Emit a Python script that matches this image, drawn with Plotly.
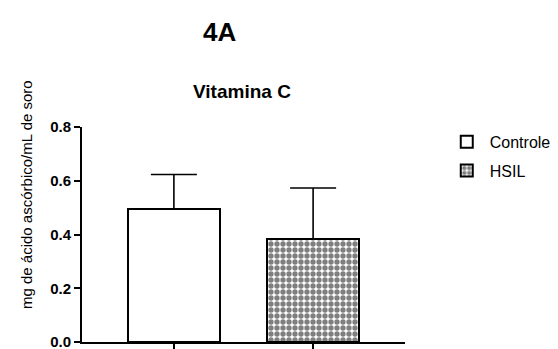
import plotly.graph_objects as go

groups = ["Controle", "HSIL"]
means = [0.495, 0.383]
sds = [0.128, 0.19]
y_ticks = [0.0, 0.2, 0.4, 0.6, 0.8]
y_tick_labels = ["0.0", "0.2", "0.4", "0.6", "0.8"]

FONT = "Liberation Sans, Arial, Helvetica, sans-serif"

fig = go.Figure()
fig.add_trace(go.Bar(
    x=[groups[0]], y=[means[0]], name=groups[0], width=0.66,
    marker=dict(color="white", line=dict(color="black", width=2)),
    error_y=dict(type="data", symmetric=False, array=[sds[0]], arrayminus=[0],
                 color="black", thickness=1.6, width=23),
    legendgroup="a",
))
fig.add_trace(go.Bar(
    x=[groups[1]], y=[means[1]], name=groups[1], width=0.66,
    marker=dict(color="white", line=dict(color="black", width=2),
                pattern=dict(shape=".", fgcolor="black", bgcolor="white",
                             size=6, solidity=0.62, fillmode="overlay")),
    error_y=dict(type="data", symmetric=False, array=[sds[1]], arrayminus=[0],
                 color="black", thickness=1.6, width=23),
    legendgroup="b",
))

fig.update_layout(
    width=558, height=349,
    margin=dict(l=74, r=161, t=119, b=15, autoexpand=False),
    paper_bgcolor="white", plot_bgcolor="white",
    font=dict(family=FONT, color="black"),
    showlegend=True,
    legend=dict(x=1.12, y=1.01, xanchor="left", yanchor="top",
                font=dict(size=16, family=FONT), tracegroupgap=5,
                itemwidth=36, bgcolor="rgba(0,0,0,0)"),
    xaxis=dict(type="category", range=[-0.66, 1.66], showline=True,
               linecolor="black", linewidth=2, ticks="outside", ticklen=8,
               tickwidth=2, tickcolor="black", showticklabels=False,
               showgrid=False, zeroline=False, automargin=False),
    yaxis=dict(range=[0, 0.8], showline=True, linecolor="black", linewidth=2,
               ticks="outside", ticklen=6, tickwidth=2, tickcolor="black",
               tickvals=y_ticks, ticktext=y_tick_labels,
               tickfont=dict(size=15, family=FONT, weight="bold"),
               showgrid=False, zeroline=False, automargin=False),
    bargap=0,
    annotations=[
        dict(text="<b>4A</b>", x=0.427, y=1.442, xref="paper", yref="paper",
             xanchor="center", yanchor="middle",
             showarrow=False, font=dict(size=26, family=FONT)),
        dict(text="<b>Vitamina C</b>", x=0.495, y=1.167, xref="paper", yref="paper",
             xanchor="center", yanchor="middle",
             showarrow=False, font=dict(size=19, family=FONT)),
        dict(text="mg de ácido ascórbico/mL de soro", x=-0.17, y=0.684,
             xref="paper", yref="paper", showarrow=False, textangle=-90,
             xanchor="center", yanchor="middle",
             font=dict(size=15, family=FONT)),
    ],
)

fig.write_html("out.html")
